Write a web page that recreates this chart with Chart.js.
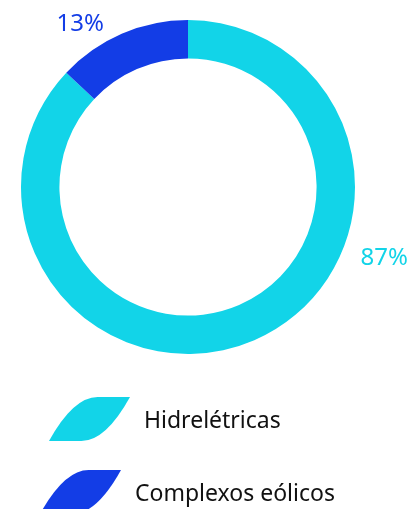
<!DOCTYPE html>
<html>
<head>
<meta charset="utf-8">
<script src="https://cdn.jsdelivr.net/npm/chart.js@4"></script>
<style>
  html, body { margin: 0; padding: 0; background: #fff; }
  #wrap { width: 412px; height: 509px; }
</style>
</head>
<body>
<div id="wrap"><canvas id="donut"></canvas></div>
<script>
var categories = ["Hidrelétricas", "Complexos eólicos"];
var shares = [87, 13];
var colors = ["#12D4E8", "#133DE6"];

// where the % labels sit around the ring (deg from top, clockwise; multiple of radius)
var pctSpots = [{ angle: 110, dist: 1.25 }, { angle: -33.5, dist: 1.17 }];

var font = "'Noto Sans', sans-serif";

function leaf(ctx, x, y, w, h) {
    ctx.beginPath();
    ctx.moveTo(x, y + h);
    ctx.quadraticCurveTo(x + 0.3 * w, y, x + 0.6 * w, y);
    ctx.lineTo(x + w, y);
    ctx.quadraticCurveTo(x + 0.7 * w, y + h, x + 0.4 * w, y + h);
    ctx.closePath();
    ctx.fill();
}

var extras = {
    id: 'extras',
    afterDraw: function (chart) {
        var ctx = chart.ctx;
        var arc = chart.getDatasetMeta(0).data[0];
        var cx = arc.x, cy = arc.y, r = arc.outerRadius;

        ctx.save();
        ctx.font = "24px " + font;
        ctx.textAlign = 'center';
        ctx.textBaseline = 'middle';
        shares.forEach(function (v, i) {
            var a = pctSpots[i].angle * Math.PI / 180;
            var d = r * pctSpots[i].dist;
            ctx.fillStyle = colors[i];
            ctx.fillText(v + '%', cx + Math.sin(a) * d, cy - Math.cos(a) * d);
        });

        // legend
        var items = [{ x: 49, y: 397 }, { x: 40, y: 470 }];
        ctx.textAlign = 'left';
        ctx.font = "23px " + font;
        categories.forEach(function (c, i) {
            var it = items[i];
            ctx.fillStyle = colors[i];
            leaf(ctx, it.x, it.y, 81, 44);
            ctx.fillStyle = '#111';
            ctx.fillText(c, it.x + 95, it.y + 24);
        });
        ctx.restore();
    }
};

new Chart(document.getElementById('donut'), {
    type: 'doughnut',
    data: {
        labels: categories,
        datasets: [{
            data: shares,
            backgroundColor: colors,
            borderWidth: 0
        }]
    },
    options: {
        responsive: true,
        maintainAspectRatio: false,
        animation: false,
        cutout: '77%',
        layout: { padding: { left: 21, right: 57, top: 20, bottom: 155 } },
        plugins: {
            legend: { display: false },
            tooltip: { enabled: false }
        }
    },
    plugins: [extras]
});
</script>
</body>
</html>
